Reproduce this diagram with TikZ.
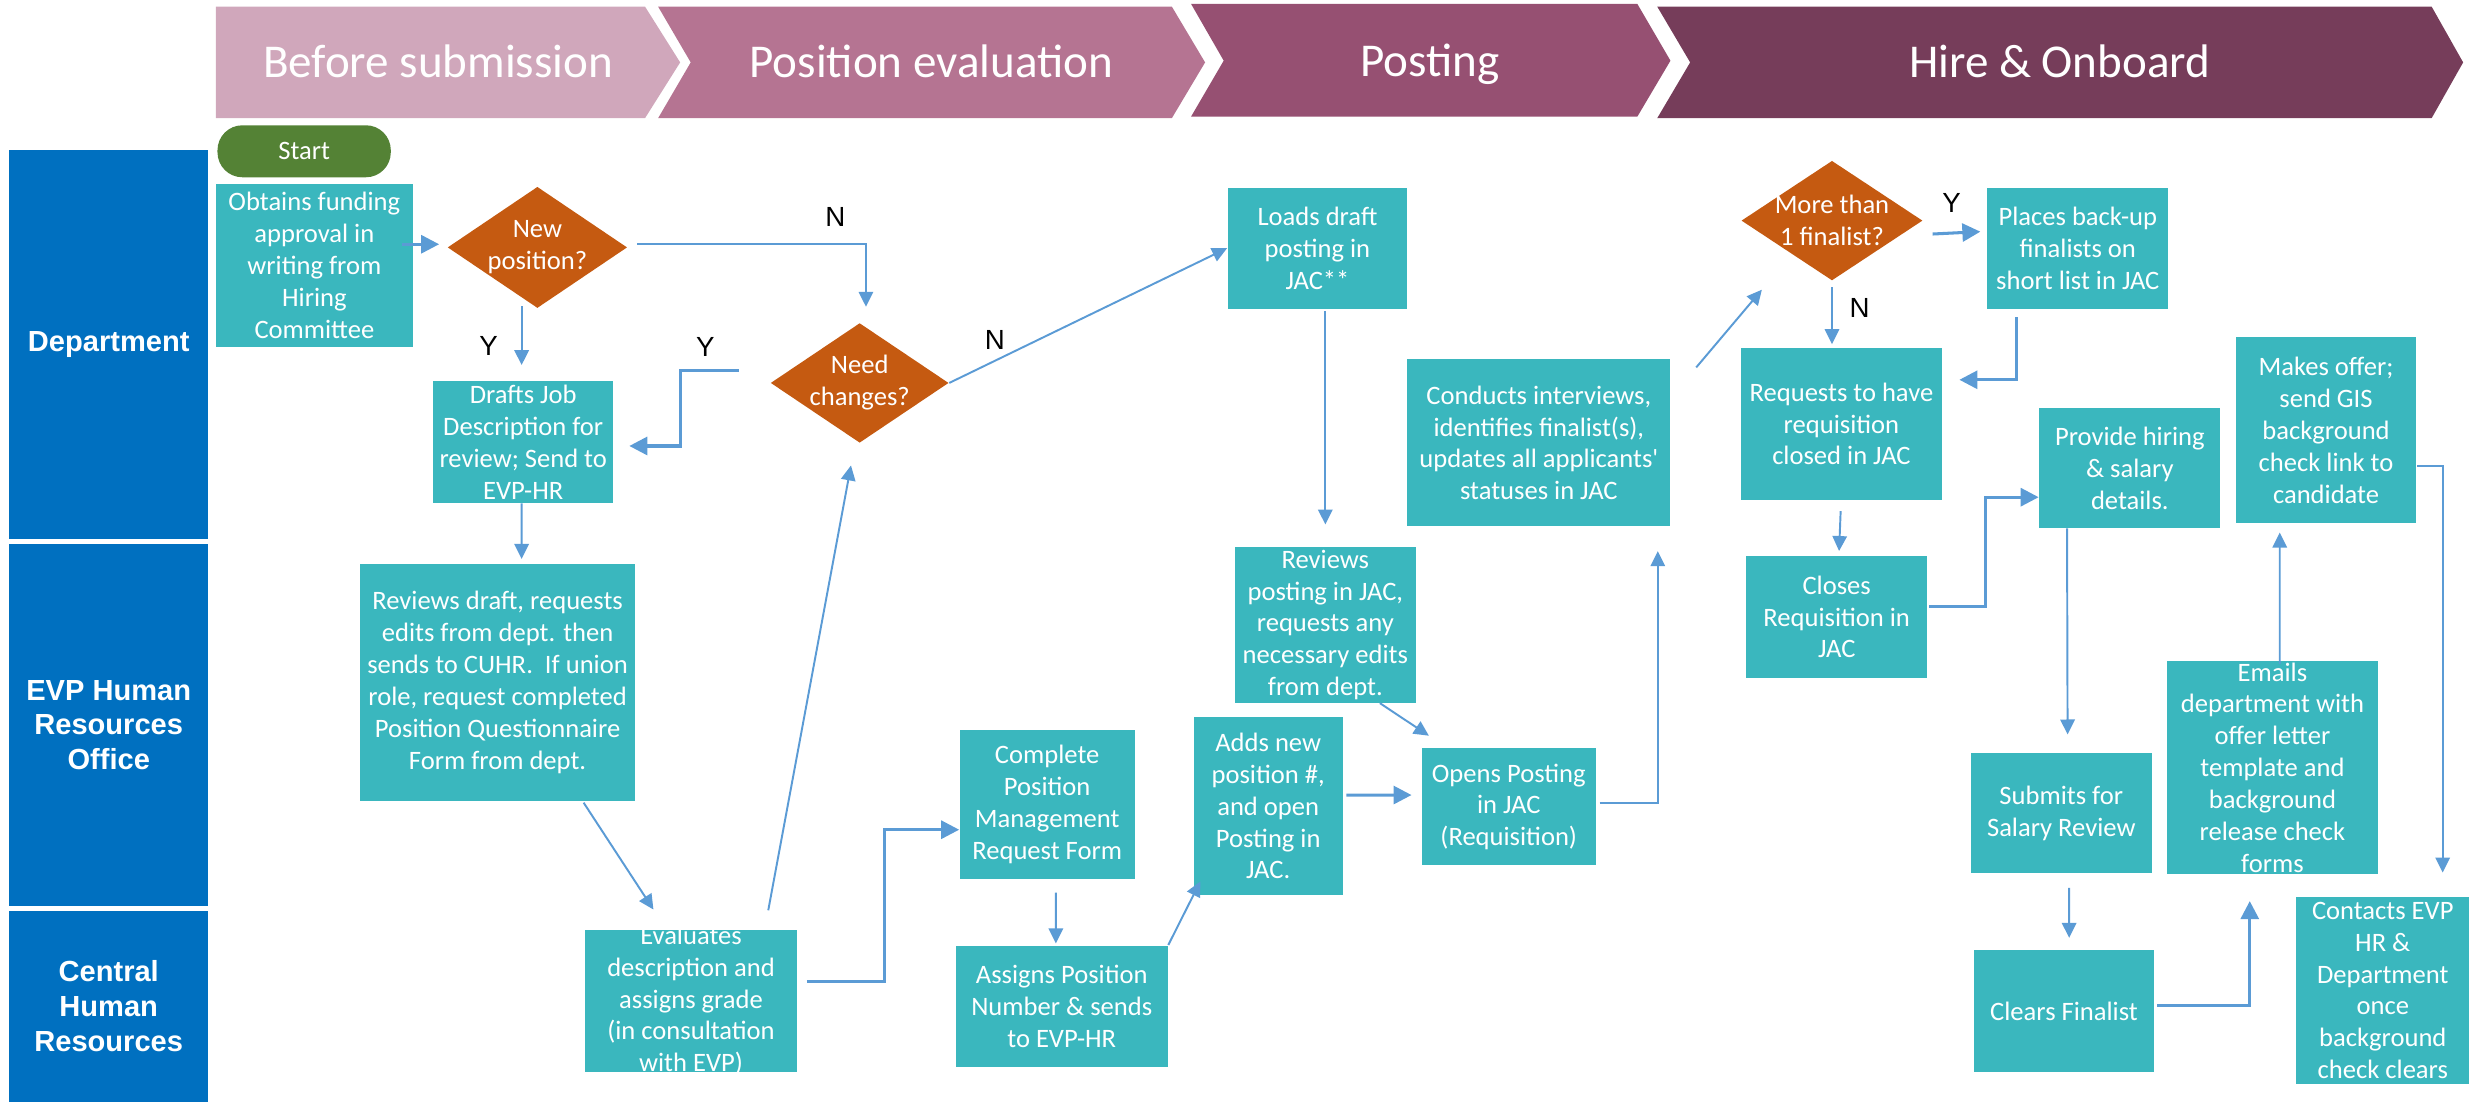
\documentclass[tikz,border=0pt]{standalone}
\usepackage{fontspec}
\setmainfont{Carlito}[Ligatures=TeXOff]
\newfontfamily\arialfont{Liberation Sans}
\usetikzlibrary{shapes.geometric,arrows.meta,calc}

\definecolor{boxteal}{RGB}{58,183,190}
\definecolor{decorange}{RGB}{197,90,17}
\definecolor{startgreen}{RGB}{84,130,53}
\definecolor{laneblue}{RGB}{0,112,192}
\definecolor{arrowblue}{RGB}{91,155,213}
\definecolor{lanedash}{RGB}{155,85,120}
\definecolor{phaseA}{RGB}{208,167,187}
\definecolor{phaseB}{RGB}{181,116,146}
\definecolor{phaseC}{RGB}{150,80,114}
\definecolor{phaseD}{RGB}{118,61,90}

\begin{document}
\begin{tikzpicture}[x=0.02cm, y=-0.02cm,
    box/.style 2 args={fill=boxteal, text=white, align=center, inner sep=1pt,
        minimum width=#1*0.02cm, minimum height=#2*0.02cm, font=\fontsize{9.6}{11.5}\selectfont},
    decision/.style 2 args={diamond, fill=decorange, inner sep=0pt,
        minimum width=#1*0.02cm, minimum height=#2*0.02cm},
    dectext/.style={text=white, align=center, inner sep=0pt, font=\fontsize{9.6}{11.5}\selectfont},
    lane/.style 2 args={fill=laneblue, text=white, align=center, inner sep=0pt,
        minimum width=#1*0.02cm, minimum height=#2*0.02cm, font=\arialfont\bfseries\fontsize{10.5}{12.5}\selectfont},
    terminal/.style={fill=startgreen, text=white, rounded corners=9pt, inner sep=0pt,
        minimum width=2.2cm, minimum height=0.66cm, font=\fontsize{9.6}{11.5}\selectfont},
    phase/.style={text=white, anchor=base, font=\fontsize{17}{20}\selectfont},
    flow/.style={draw=arrowblue, line width=0.7pt, -{Triangle[length=5.4pt,width=5.2pt]}},
    flowthick/.style={flow, line width=1.1pt, -{Triangle[length=6.5pt,width=6.5pt]}},
    yn/.style={font=\arialfont\fontsize{10}{12}\selectfont, text=black, inner sep=0pt},
    lanesep/.style={draw=lanedash, line width=0.8pt, dash pattern=on 5pt off 2.6pt}]

\useasboundingbox (0,0) rectangle (1568,699);

\fill[phaseA] (137,4.2) -- (409.3,4.2) -- (431.6,39.6) -- (409.3,75) -- (137,75) -- cycle;
\fill[phaseB] (417.6,4.2) -- (743.6,4.2) -- (764.7,39.6) -- (743.6,75) -- (417.6,75) -- (438.3,39.6) -- cycle;
\fill[phaseC] (755.8,2.5) -- (1039,2.5) -- (1060,38.5) -- (1039,74) -- (755.8,74) -- (776.5,38.5) -- cycle;
\fill[phaseD] (1051.6,4.2) -- (1543,4.2) -- (1563,39.6) -- (1543,75) -- (1051.6,75) -- (1072.5,39.6) -- cycle;
\node[phase] (before) at (278,49.4) {Before submission};
\node[phase] (evaluation) at (591,49.4) {Position evaluation};
\node[phase] (posting) at (907.5,48.4) {Posting};
\node[phase] (hire) at (1307,49.4) {Hire \& Onboard};

\node[lane={126}{247}] (deptlane) at (69,218.5) {Department};
\node[lane={126}{230}] (evplane) at (69,460) {EVP Human\\Resources\\Office};
\node[lane={126}{121}] (centrallane) at (69,638.5) {Central\\Human\\Resources};
\coordinate (rightedge) at (1568,0);
\draw[lanesep] ($(deptlane.south east)!0.5!(evplane.north east)$) -- ($(deptlane.south east)!0.5!(evplane.north east)$ -| rightedge);
\draw[lanesep] ($(evplane.south east)!0.5!(centrallane.north east)$) -- ($(evplane.south east)!0.5!(centrallane.north east)$ -| rightedge);

\node[terminal] (start) at (193,96) {Start};
\node[box={125}{103}] (obtain) at (199.5,168.5) {Obtains funding\\approval in\\writing from\\Hiring\\Committee};
\node[decision={114}{77}, label={[dectext]center:New\\position?}] (newpos) at (341,157) {};
\node[box={114}{77}] (drafts) at (332,280.5) {Drafts Job\\Description for\\review; Send to\\EVP-HR};
\node[decision={113}{76}, label={[dectext]center:Need\\changes?}] (needch) at (545.5,243) {};
\node[box={114}{77}] (loads) at (836,157.5) {Loads draft\\posting in\\JAC**};
\node[box={167}{106}] (conducts) at (976.5,281) {Conducts interviews,\\identifies finalist(s),\\updates all applicants'\\statuses in JAC};
\node[decision={115}{76}, label={[dectext]center:More than\\1 finalist?}] (morethan) at (1162.5,140) {};
\node[box={115}{77}] (places) at (1318.5,157.5) {Places back-up\\finalists on\\short list in JAC};
\node[box={127}{96}] (requests) at (1168.5,269) {Requests to have\\requisition\\closed in JAC};
\node[box={115}{76}] (provide) at (1351.5,297) {Provide hiring\\\& salary\\details.};
\node[box={114}{118}] (makes) at (1476,273) {Makes offer;\\send GIS\\background\\check link to\\candidate};

\node[box={174.5}{150}] (reviewsdraft) at (315.75,433) {Reviews draft, requests\\edits from dept. then\\sends to CUHR.\ \ If union\\role, request completed\\Position Questionnaire\\Form from dept.};
\node[box={111}{95}] (complete) at (664.5,510.5) {Complete\\Position\\Management\\Request Form};
\node[box={94.5}{113}] (adds) at (804.75,511.5) {Adds new\\position \#,\\and open\\Posting in\\JAC.};
\node[box={115}{95}] (reviewspost) at (841,396.5) {Reviews\\posting in JAC,\\requests any\\necessary edits\\from dept.};
\node[box={110.7}{74.4}] (opens) at (957.4,512) {Opens Posting\\in JAC\\(Requisition)};
\node[box={115}{77}] (closes) at (1165.5,391.5) {Closes\\Requisition in\\JAC};
\node[box={114.5}{76}] (submits) at (1308,516) {Submits for\\Salary Review};
\node[box={134}{135.5}, inner ysep=0pt] (emails) at (1442,487) {Emails\\department with\\offer letter\\template and\\background\\release check\\forms};

\node[box={135}{90}, inner ysep=-2pt] (evaluates) at (438.5,635) {Evaluates\\description and\\assigns grade\\(in consultation\\with EVP)};
\node[box={134.5}{77}] (assigns) at (673.75,638.5) {Assigns Position\\Number \& sends\\to EVP-HR};
\node[box={114.5}{77}] (clears) at (1309.75,641.5) {Clears Finalist};
\node[box={110}{119}] (contacts) at (1512,628.5) {Contacts EVP\\HR \&\\Department\\once\\background\\check clears};

\draw[flowthick] ($(obtain.east)+(-7,-13.5)$) -- ($(newpos.west)+(-5,-2)$);
\draw[flow] ($(newpos.east)+(6,-2)$) -| ($(needch.north)+(4,-10)$) node[yn, pos=0.433, yshift=0.35cm] {N};
\draw[flow] ($(newpos.south)+(-10,-1.5)$) -- ($(drafts.north)+(-1,-10)$) node[yn, pos=0.68, xshift=-0.42cm] {Y};
\draw[flowthick] ($(needch.west)+(-20,-8)$) -- ++(-37,0) node[yn, pos=0.57, yshift=0.3cm] {Y} |- ($(drafts.east)+(10,2.5)$);
\draw[flow] (needch.east) -- (loads.west) node[yn, pos=0.164, yshift=0.26cm] {N};
\draw[flow] ($(loads.south)+(5,1)$) -- ($(reviewspost.north)+(0,-14)$);
\draw[flow] ($(drafts.south)+(-1,0)$) -- ($(reviewsdraft.north)+(15.25,-3)$);
\draw[flow] ($(reviewsdraft.south east)+(-33,1)$) -- ($(evaluates.north west)+(44,-12.5)$);
\draw[flow] ($(evaluates.north)+(49,-12)$) -- ($(needch.south)+(-5.5,14)$);
\draw[flowthick] ($(evaluates.east)+(5.6,-12)$) -- ++(49.4,0) |- ($(complete.west)+(0,16)$);
\draw[flow] ($(complete.south)+(5.5,8)$) -- ($(assigns.north)+(-3.75,-1)$);
\draw[flow] (assigns.north east) -- ($(adds.south west)+(4.5,-9)$);
\draw[flowthick] ($(adds.east)+(2,-7)$) -- ($(opens.west)+(-6,-7.5)$);
\draw[flow] ($(reviewspost.south)+(34.6,0)$) -- ($(opens.north west)+(5,-7.6)$);
\draw[flow] ($(opens.east)+(2,-2.4)$) -| ($(conducts.south east)+(-8.4,15.4)$);
\draw[flow] ($(conducts.north east)+(16,5.5)$) -- ($(morethan.south)+(-44.5,5.5)$);
\draw[flowthick] ($(morethan.east)+(6,8.5)$) -- ($(places.west)+(-4,-10.5)$) node[yn, pos=0.4, yshift=0.38cm] {Y};
\draw[flow] ($(morethan.south)+(0,4)$) -- ($(morethan.south |- requests.north)+(0,-2.3)$) node[yn, pos=0.37, xshift=0.35cm] {N};
\draw[flowthick] ($(places.south west)+(19,5)$) |- ($(requests.east)+(11,-28)$);
\draw[flow] ($(requests.south)+(-0.5,7)$) -- ($(closes.north)+(1.5,-3)$);
\draw[flowthick] ($(closes.east)+(1,-6.5)$) -- ++(35.6,0) |- ($(provide.west)+(0,18.5)$);
\draw[flow] ($(provide.south west)+(18,0)$) -- ($(submits.north)+(4,-11.6)$);
\draw[flow] ($(submits.south)+(5,9)$) -- ($(clears.north)+(3.25,-7.5)$);
\draw[flowthick] ($(clears.east)+(1.6,-3.5)$) -| ($(emails.south)+(-14.4,16.7)$);
\draw[flow] ($(emails.north)+(4.6,2.5)$) -- ($(makes.south)+(-29.4,5.6)$);
\draw[flow] ($(makes.east)+(0.6,22.7)$) -| ($(contacts.north)+(38,-15)$);
\end{tikzpicture}
\end{document}
